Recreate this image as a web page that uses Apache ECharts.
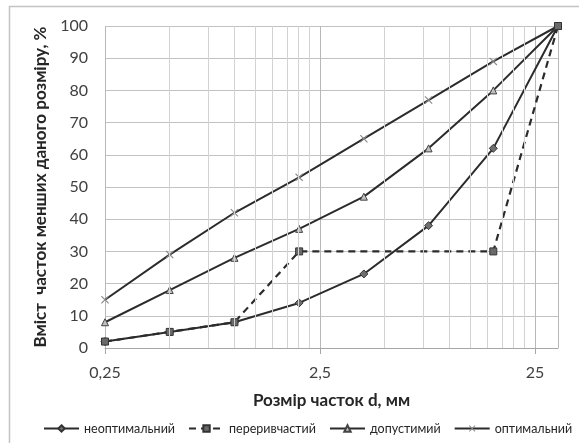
<!DOCTYPE html>
<html>
<head>
<meta charset="utf-8">
<script src="https://cdn.jsdelivr.net/npm/echarts@6/dist/echarts.min.js"></script>
<style>
html,body{margin:0;padding:0;background:#fff;}
#chart{width:579px;height:443px;}
</style>
</head>
<body>
<div id="chart"></div>
<script>
// particle size, mm
var sizes = [0.25, 0.5, 1, 2, 4, 8, 16, 32];
var nonOptimal = [2, 5, 8, 14, 23, 38, 62, 100];
var gapSizes = [0.25, 0.5, 1, 2, 16, 32];
var gapGraded = [2, 5, 8, 30, 30, 100];
var acceptable = [8, 18, 28, 37, 47, 62, 80, 100];
var optimal = [15, 29, 42, 53, 65, 77, 89, 100];
var seriesNames = ['неоптимальний', 'переривчастий', 'допустимий', 'оптимальний'];
var xTickLabels = ['0,25', '2,5', '25'];
var minorGridSizes = [0.5, 0.75, 1, 1.25, 1.5, 1.75, 2, 2.25, 5, 7.5, 10, 12.5, 15, 17.5, 20, 22.5];
var xMinSize = 0.25, xMaxSize = 32;

function toX(d) { return Math.log10(d / xMinSize); }
function pairs(xs, ys) { return xs.map(function (d, i) { return [toX(d), ys[i]]; }); }

var xSym = 'path://M0,1L1,0L5,4L9,0L10,1L6,5L10,9L9,10L5,6L1,10L0,9L4,5Z';
var font = 'Lato, "Open Sans", sans-serif';
var lineColor = '#2b2b2b';

var chart = echarts.init(document.getElementById('chart'), null, {renderer: 'canvas'});
chart.setOption({
  animation: false,
  textStyle: {fontFamily: font},
  graphic: [{
    type: 'rect', silent: true,
    shape: {x: 9.5, y: 6.5, width: 800, height: 700},
    style: {fill: 'none', stroke: '#c4c4c4', lineWidth: 1.5}
  }],
  grid: {left: 105, right: 21, top: 26, bottom: 95, containLabel: false},
  legend: {
    top: 417, left: 38, right: 0,
    itemWidth: 35, itemHeight: 8, itemGap: 13,
    textStyle: {fontSize: 12.5, color: '#262626', fontFamily: font},
    data: seriesNames
  },
  xAxis: {
    type: 'value', min: 0, max: toX(xMaxSize), interval: 1,
    name: 'Розмір часток d, мм', nameLocation: 'middle', nameGap: 44,
    nameTextStyle: {fontSize: 17, fontWeight: 'bold', color: '#262626', fontFamily: font},
    axisLine: {show: true, lineStyle: {color: '#a6a6a6', width: 1}},
    axisTick: {show: true, length: 6, lineStyle: {color: '#a6a6a6'}},
    axisLabel: {
      fontSize: 16, color: '#404040', margin: 17, showMaxLabel: false, fontFamily: font,
      formatter: function (v) { var i = Math.round(v); return Math.abs(v - i) < 1e-6 ? (xTickLabels[i] || '') : ''; }
    },
    splitLine: {show: true, lineStyle: {color: '#b8b8b8', width: 1}}
  },
  yAxis: {
    type: 'value', min: 0, max: 100, interval: 10,
    name: 'Вміст  часток менших даного розміру, %', nameLocation: 'middle', nameGap: 55,
    nameTextStyle: {fontSize: 17, fontWeight: 'bold', color: '#262626', fontFamily: font},
    axisLine: {show: false}, axisTick: {show: false},
    axisLabel: {fontSize: 16, color: '#404040', margin: 17, fontFamily: font},
    splitLine: {show: true, lineStyle: {color: '#c2c2c2', width: 1}}
  },
  series: [
    {
      name: '_grid', type: 'line', data: [], z: 1, silent: true,
      markLine: {
        silent: true, symbol: 'none', label: {show: false},
        lineStyle: {color: '#d2d2d2', width: 1, type: 'solid'},
        data: minorGridSizes.map(function (d) { return {xAxis: toX(d)}; })
      }
    },
    {
      name: seriesNames[0], type: 'line', z: 3, data: pairs(sizes, nonOptimal),
      symbol: 'diamond', symbolSize: 8,
      lineStyle: {color: lineColor, width: 2},
      itemStyle: {color: '#6f6f6f', borderColor: '#333', borderWidth: 1}
    },
    {
      name: seriesNames[1], type: 'line', z: 4, data: pairs(gapSizes, gapGraded),
      symbol: 'rect', symbolSize: 7,
      lineStyle: {color: lineColor, width: 2.2, type: [7, 5]},
      itemStyle: {color: '#6a6a6a', borderColor: '#333', borderWidth: 1}
    },
    {
      name: seriesNames[2], type: 'line', z: 3, data: pairs(sizes, acceptable),
      symbol: 'triangle', symbolSize: 7,
      lineStyle: {color: lineColor, width: 2},
      itemStyle: {color: '#c0c0c0', borderColor: '#444', borderWidth: 1}
    },
    {
      name: seriesNames[3], type: 'line', z: 3, data: pairs(sizes, optimal),
      symbol: xSym, symbolSize: 8,
      lineStyle: {color: lineColor, width: 2},
      itemStyle: {color: '#8a8a8a'}
    }
  ]
});
</script>
</body>
</html>
